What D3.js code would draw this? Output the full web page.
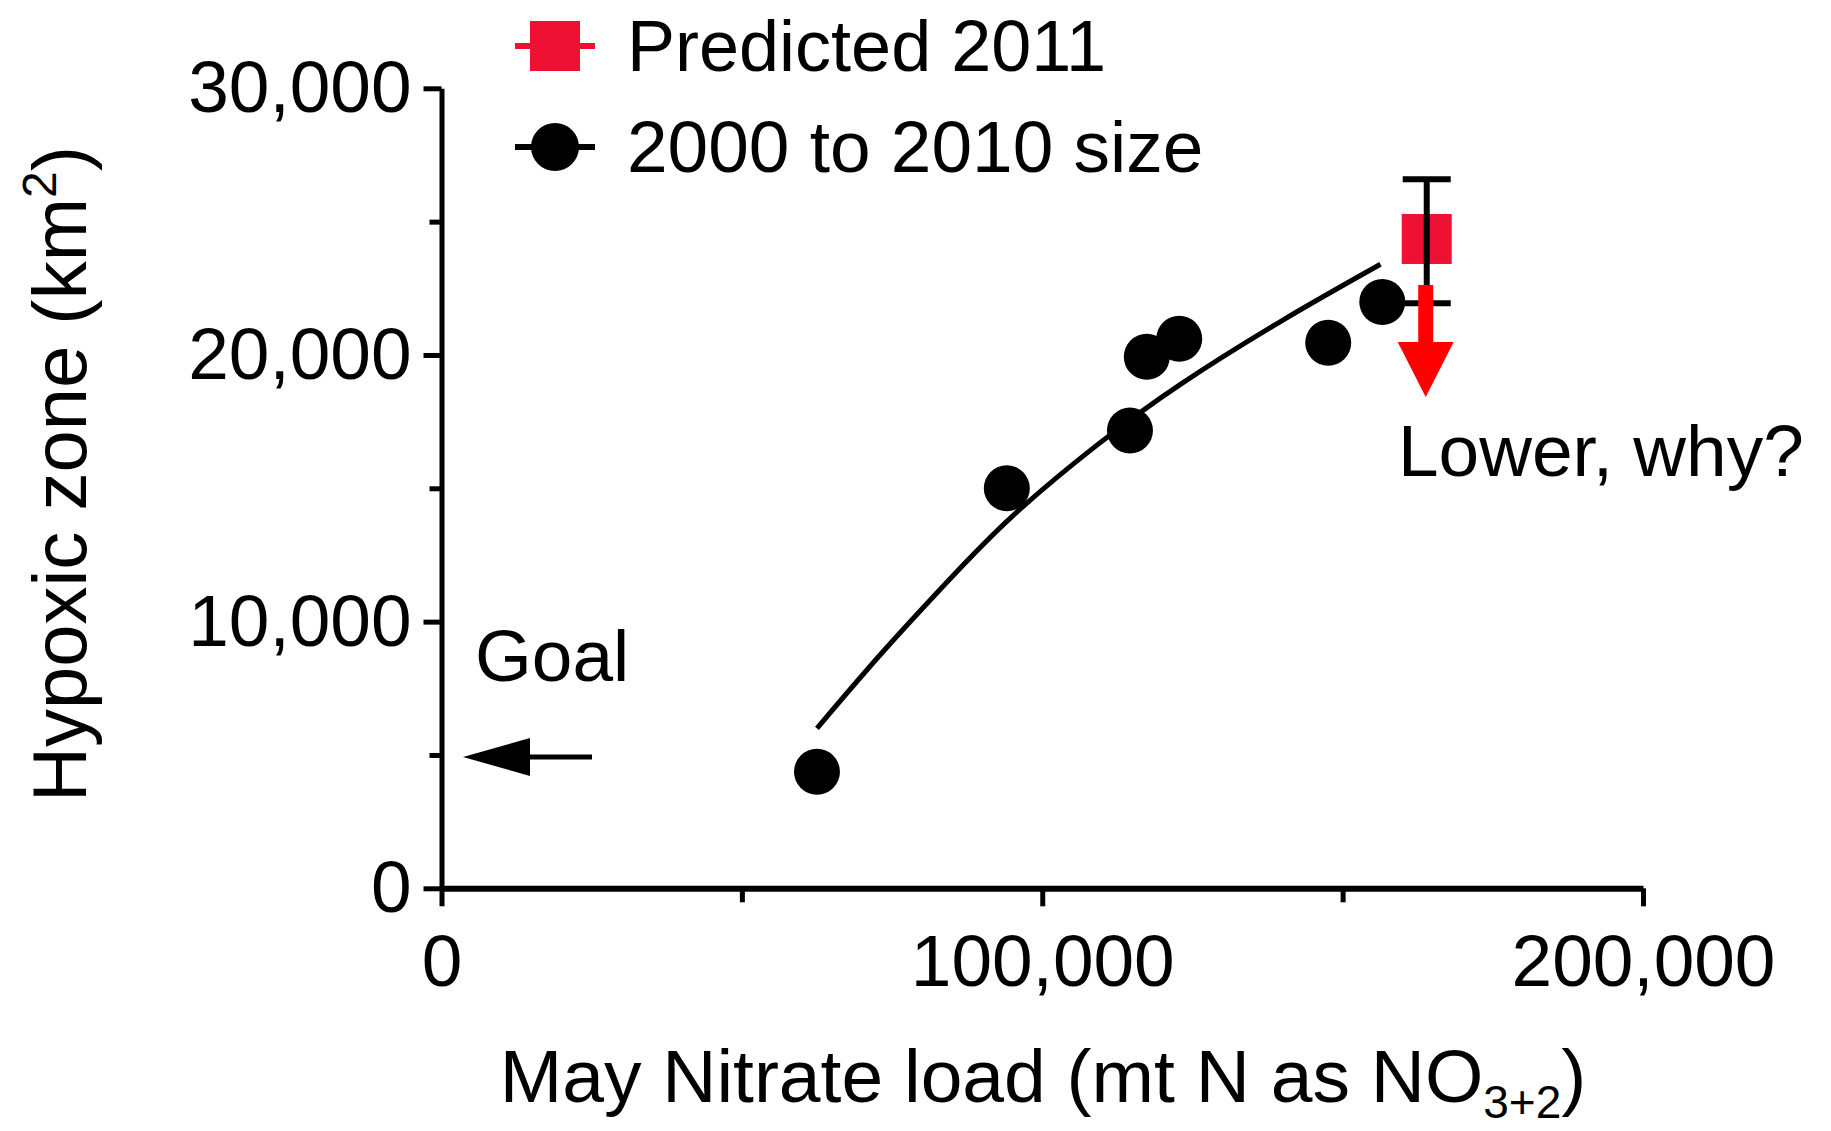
<!DOCTYPE html>
<html>
<head>
<meta charset="utf-8">
<script src="https://cdn.jsdelivr.net/npm/d3@7"></script>
<style>
  html, body { margin: 0; padding: 0; background: #ffffff; }
  svg { display: block; }
  text { font-family: "Liberation Sans", Arial, Helvetica, sans-serif; fill: #000; }
</style>
</head>
<body>
<svg id="chart" width="1831" height="1131"></svg>
<script>
// ---- data ----
const observedLoad = [62500, 94100, 114600, 117400, 122800, 147600, 156600];   // mt N (2000 to 2010)
const observedSize = [4370, 15000, 17170, 19930, 20610, 20460, 21990];        // km2
const predictedLoad = [164000];          // Predicted 2011
const predictedSize = [24350];
const predictedUpper = [26590];
const predictedLower = [21940];
const fitLoad = [62500, 73000, 84000, 95000, 109000, 123000, 140000, 156300];
const fitSize = [6000, 8750, 11450, 13950, 16600, 18900, 21300, 23400];
const goalSize = [5000];
const yMajorTicks = [0, 10000, 20000, 30000];
const yMinorTicks = [5000, 15000, 25000];
const xMajorTicks = [0, 100000, 200000];
const xMinorTicks = [50000, 150000];
const legendLabels = ["Predicted 2011", "2000 to 2010 size"];

// ---- layout ----
const svg = d3.select("#chart");
const x = d3.scaleLinear().domain([0, 200000]).range([441.5, 1643]);
const y = d3.scaleLinear().domain([0, 30000]).range([888.3, 88.3]);
const fmt = d3.format(",");
const FONT = 73;

// y axis (major)
const gy = svg.append("g").attr("transform", `translate(${x(0)},0)`)
  .call(d3.axisLeft(y).tickValues(yMajorTicks).tickFormat(fmt).tickSize(18).tickSizeOuter(0).tickPadding(12));
gy.select(".domain").attr("stroke", "#000").attr("stroke-width", 5);
gy.selectAll(".tick line").attr("stroke", "#000").attr("stroke-width", 5);
gy.selectAll(".tick text").attr("font-size", FONT).attr("font-family", "Liberation Sans, Arial, sans-serif").attr("fill", "#000");
// y minor ticks
const gy2 = svg.append("g").attr("transform", `translate(${x(0)},0)`)
  .call(d3.axisLeft(y).tickValues(yMinorTicks).tickFormat("").tickSize(12).tickSizeOuter(0));
gy2.select(".domain").remove();
gy2.selectAll(".tick line").attr("stroke", "#000").attr("stroke-width", 5);

// x axis (major)
const gx = svg.append("g").attr("transform", `translate(0,${y(0)})`)
  .call(d3.axisBottom(x).tickValues(xMajorTicks).tickFormat(fmt).tickSize(18).tickSizeOuter(0).tickPadding(28));
gx.select(".domain").attr("stroke", "#000").attr("stroke-width", 6);
gx.selectAll(".tick line").attr("stroke", "#000").attr("stroke-width", 5);
gx.selectAll(".tick text").attr("font-size", FONT).attr("font-family", "Liberation Sans, Arial, sans-serif").attr("fill", "#000");
const gx2 = svg.append("g").attr("transform", `translate(0,${y(0)})`)
  .call(d3.axisBottom(x).tickValues(xMinorTicks).tickFormat("").tickSize(14).tickSizeOuter(0));
gx2.select(".domain").remove();
gx2.selectAll(".tick line").attr("stroke", "#000").attr("stroke-width", 5);

// axis titles
const yTitle = svg.append("text")
  .attr("transform", `translate(86,474) rotate(-90)`)
  .attr("text-anchor", "middle")
  .attr("font-size", 76);
yTitle.append("tspan").text("Hypoxic zone (km");
yTitle.append("tspan").attr("font-size", 48).attr("dy", -30).text("2");
yTitle.append("tspan").attr("dy", 30).text(")");

const xTitle = svg.append("text")
  .attr("x", 1043).attr("y", 1102)
  .attr("text-anchor", "middle")
  .attr("font-size", 75);
xTitle.append("tspan").text("May Nitrate load (mt N as NO");
xTitle.append("tspan").attr("font-size", 46).attr("dy", 16).text("3+2");
xTitle.append("tspan").attr("dy", -16).text(")");

// fitted curve
const fitData = fitLoad.map((d, i) => [d, fitSize[i]]);
svg.append("path")
  .datum(fitData)
  .attr("fill", "none").attr("stroke", "#000").attr("stroke-width", 5)
  .attr("d", d3.line().x(d => x(d[0])).y(d => y(d[1])).curve(d3.curveNatural));

// observed points
const obs = observedLoad.map((d, i) => ({ load: d, size: observedSize[i] }));
svg.append("g").selectAll("circle").data(obs).join("circle")
  .attr("cx", d => x(d.load)).attr("cy", d => y(d.size)).attr("r", 23).attr("fill", "#000");

// predicted 2011 square
const pred = predictedLoad.map((d, i) => ({ load: d, size: predictedSize[i], hi: predictedUpper[i], lo: predictedLower[i] }));
const pg = svg.append("g");
pg.selectAll("rect").data(pred).join("rect")
  .attr("x", d => x(d.load) - 25).attr("y", d => y(d.size) - 25)
  .attr("width", 50).attr("height", 50).attr("fill", "#ee1133");
// error bar
pred.forEach(d => {
  pg.append("line").attr("x1", x(d.load)).attr("x2", x(d.load)).attr("y1", y(d.hi)).attr("y2", y(d.lo))
    .attr("stroke", "#000").attr("stroke-width", 6);
  [d.hi, d.lo].forEach(v => {
    pg.append("line").attr("x1", x(d.load) - 24).attr("x2", x(d.load) + 24).attr("y1", y(v)).attr("y2", y(v))
      .attr("stroke", "#000").attr("stroke-width", 6);
  });
  // red downward arrow
  const ax = x(d.load) - 1, top = y(d.size) + 46, headTop = top + 57, tip = headTop + 55;
  pg.append("rect").attr("x", ax - 7.5).attr("y", top).attr("width", 15).attr("height", headTop - top + 1).attr("fill", "#ff0000");
  pg.append("path").attr("d", `M${ax - 28},${headTop} L${ax + 28},${headTop} L${ax},${tip} Z`).attr("fill", "#ff0000");
});

// annotation text
svg.append("text").attr("x", 1398).attr("y", 476).attr("font-size", 73).text("Lower, why?");
svg.append("text").attr("x", 475).attr("y", 681).attr("font-size", 73).text("Goal");

// goal arrow
goalSize.forEach(g => {
  const gyPos = y(g) + 2;
  svg.append("line").attr("x1", 500).attr("x2", 592).attr("y1", gyPos).attr("y2", gyPos)
    .attr("stroke", "#000").attr("stroke-width", 5);
  svg.append("path").attr("d", `M463,${gyPos} L530,${gyPos - 19} L530,${gyPos + 19} Z`).attr("fill", "#000");
});

// legend
const legend = svg.append("g");
const legY = [46, 147];
legend.append("line").attr("x1", 515).attr("x2", 595).attr("y1", legY[0]).attr("y2", legY[0]).attr("stroke", "#ee1133").attr("stroke-width", 6);
legend.append("rect").attr("x", 530).attr("y", legY[0] - 25).attr("width", 50).attr("height", 50).attr("fill", "#ee1133");
legend.append("line").attr("x1", 515).attr("x2", 595).attr("y1", legY[1]).attr("y2", legY[1]).attr("stroke", "#000").attr("stroke-width", 6);
legend.append("circle").attr("cx", 555).attr("cy", legY[1]).attr("r", 24).attr("fill", "#000");
legend.selectAll("text.lbl").data(legendLabels).join("text").attr("class", "lbl")
  .attr("x", 627).attr("y", (d, i) => legY[i] + 25).attr("font-size", (d, i) => i === 0 ? 72 : 73).text(d => d);
</script>
</body>
</html>
